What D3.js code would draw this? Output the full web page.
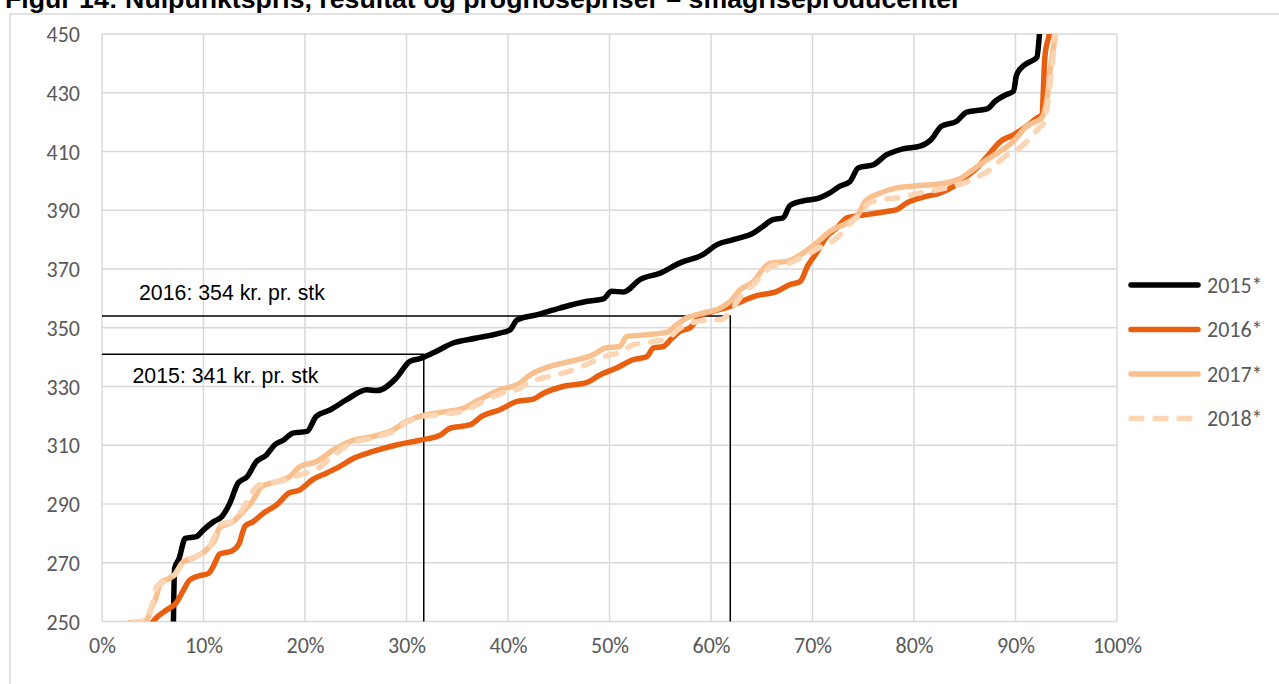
<!DOCTYPE html>
<html>
<head>
<meta charset="utf-8">
<script src="https://cdn.jsdelivr.net/npm/d3@7"></script>
<style>
  body { margin: 0; background: #fff; }
  svg { display: block; }
</style>
</head>
<body>
<svg id="chart" width="1279" height="684"></svg>
<script>
// ---- data ----
const title = "Figur 14: Nulpunktspris, resultat og prognosepriser – smågriseproducenter";

const xTicks = [0, 10, 20, 30, 40, 50, 60, 70, 80, 90, 100];
const yTicks = [250, 270, 290, 310, 330, 350, 370, 390, 410, 430, 450];

const seriesNames = ["2015*", "2016*", "2017*", "2018*"];

// share of producers (%) and break-even price (kr. pr. stk)
const share2015 = [7.0, 7.15, 7.6, 8.2, 9.3, 10.0, 11.0, 11.8, 12.6, 13.4, 14.3, 15.2, 16.2, 17.0, 17.9, 18.8, 20.2, 21.1, 22.5, 24.1, 26.1, 27.1, 29.0, 30.3, 31.3, 32.6, 34.6, 36.9, 39.2, 40.2, 40.9, 42.8, 45.1, 47.8, 49.4, 50.2, 51.4, 53.0, 55.0, 56.9, 59.2, 60.6, 62.2, 64.2, 65.0, 66.1, 67.1, 67.8, 69.4, 70.7, 71.7, 72.7, 73.7, 74.5, 76.0, 77.3, 78.9, 80.6, 81.7, 82.7, 84.2, 85.2, 87.2, 88.0, 89.1, 89.8, 90.1, 90.6, 91.4, 92.1, 92.4, 92.8];
const price2015 = [240, 268, 271.5, 278.3, 278.9, 281.2, 284, 285.7, 290.3, 297.1, 299.3, 304.4, 306.7, 310.1, 311.8, 314.1, 314.7, 319.8, 322.1, 325.5, 328.9, 328.6, 332.9, 338.5, 339.5, 341.4, 344.8, 346.5, 348.2, 349.3, 352.7, 354.4, 356.7, 359, 359.8, 362.4, 362.2, 366.4, 368.6, 372, 374.9, 378.3, 380, 382.3, 384.2, 386.8, 387.4, 391.7, 393.4, 394.2, 395.9, 398.2, 399.8, 404.4, 405.5, 408.9, 410.9, 411.8, 414.1, 418.6, 420.3, 423.4, 424.5, 427.1, 429.4, 430.5, 436, 438.6, 440.5, 442, 451.6, 470];

const share2016 = [4.5, 5.1, 6.4, 7.3, 8.0, 8.6, 9.5, 10.5, 11.0, 11.6, 12.8, 13.5, 14.1, 14.9, 15.9, 17.2, 18.4, 19.5, 20.7, 22.1, 23.4, 24.8, 26.7, 29.0, 31.3, 33.3, 34.3, 36.3, 37.4, 39.2, 40.9, 42.5, 43.5, 45.4, 47.8, 49.1, 50.7, 52.3, 53.7, 54.3, 55.3, 56.0, 56.9, 57.9, 58.9, 60.2, 61.9, 62.9, 64.5, 66.5, 67.8, 68.8, 69.5, 70.4, 71.4, 72.4, 73.4, 75.3, 77.3, 78.3, 79.3, 81.2, 82.6, 83.9, 85.2, 86.2, 87.2, 88.5, 89.8, 91.1, 92.1, 92.6, 92.9, 93.4, 93.7];
const price2016 = [247, 250.3, 254, 256.3, 260.5, 264, 265.5, 266.4, 269, 273, 274, 276.5, 282.5, 284, 286.9, 289.7, 293.7, 294.8, 298.2, 300.5, 302.7, 305.6, 307.9, 310.1, 311.7, 313.4, 315.8, 317, 319.8, 322.1, 324.9, 325.7, 327.7, 330, 331.4, 334, 336.3, 339.1, 340.2, 343.1, 343.6, 345.9, 348.7, 349.9, 353.9, 355.6, 357.3, 358.8, 360.9, 362.4, 364.7, 365.8, 370.9, 375.5, 381.1, 384, 387.4, 388.5, 389.6, 390.2, 392.5, 394.7, 395.9, 398.1, 401.5, 404.4, 408.3, 413.4, 415.7, 418.6, 421.4, 422.6, 442.4, 451.5, 462];

const share2017 = [2.7, 4.4, 4.8, 5.3, 5.8, 6.6, 7.2, 7.9, 9.1, 10.0, 10.6, 11.1, 11.6, 12.9, 13.9, 14.9, 15.7, 17.2, 18.5, 19.5, 21.1, 22.8, 24.4, 26.7, 28.7, 29.7, 31.3, 33.3, 35.6, 37.2, 39.2, 40.9, 42.2, 44.1, 46.1, 48.4, 49.6, 51.0, 51.7, 53.7, 55.6, 56.6, 57.6, 59.2, 60.9, 61.9, 62.9, 64.2, 65.2, 65.8, 67.5, 69.1, 70.4, 71.7, 73.4, 74.5, 75.2, 76.7, 78.3, 80.6, 83.2, 84.5, 85.8, 87.2, 88.5, 89.8, 91.1, 92.6, 93.1, 93.5, 94.0, 94.3];
const price2017 = [249.6, 250.4, 254, 258, 263.3, 264.6, 266, 270, 271.8, 273.5, 275.5, 277.6, 282, 284, 287.4, 291.4, 295.9, 297.6, 299.3, 302.7, 304.4, 308.4, 311.3, 313, 315.2, 317.5, 319.8, 321.2, 322.6, 325.5, 328.9, 330.6, 334, 336.8, 338.5, 340.8, 343.1, 343.6, 347, 347.6, 348.4, 351, 353.3, 355, 356.7, 359, 363, 365.8, 370.3, 372, 372.6, 375.5, 378.9, 382.8, 385.7, 388.5, 393, 395.9, 397.6, 398.4, 399.3, 400.7, 403.8, 407.3, 410.1, 413.5, 418.6, 421.5, 428, 440, 451.6, 462];

const share2018 = [2.9, 4.4, 4.9, 5.4, 6.4, 7.3, 8.1, 9.2, 10.1, 10.7, 11.2, 11.7, 13.0, 13.8, 14.6, 15.5, 17.0, 18.5, 19.5, 21.0, 22.8, 24.4, 26.7, 28.7, 29.9, 31.3, 33.3, 35.6, 37.2, 39.2, 40.9, 42.2, 44.1, 46.1, 48.4, 50.0, 51.0, 52.3, 54.3, 55.8, 56.8, 58.0, 59.9, 61.0, 62.0, 62.9, 64.2, 65.2, 66.0, 67.5, 69.5, 70.8, 72.2, 73.7, 74.8, 75.6, 77.0, 78.5, 80.6, 82.8, 84.0, 85.2, 86.3, 87.3, 88.2, 89.0, 90.7, 92.3, 92.9, 93.3, 93.8, 94.2, 94.5];
const price2018 = [249.5, 250.5, 255, 262, 264, 266.5, 270.5, 272, 273.8, 276, 280, 283, 284.3, 288, 293, 296.5, 297.5, 298.5, 300, 301.5, 306.5, 310.5, 312.5, 314.8, 317.6, 319.5, 320.5, 321.6, 324.3, 327.5, 329, 331.5, 333.5, 335.2, 338.5, 340.8, 341.5, 344.2, 345.3, 346.5, 349.5, 351.5, 352.7, 352.8, 356, 360.5, 364.8, 368.5, 371, 371.8, 375, 377.5, 380, 385.5, 389, 392.5, 393.8, 394.3, 395.9, 397.3, 398.3, 399.6, 401.5, 403.3, 406, 408.4, 412, 418, 420.5, 430, 445, 456, 465];

// zero-point price markers
const markerLabels = ["2016: 354 kr. pr. stk", "2015: 341 kr. pr. stk"];
const markerPrices = [354, 341];
const markerShares = [61.9, 31.7];

// ---- styling ----
const colors = ["#000000", "#E8600F", "#F9C08F", "#FCD5B4"];
const dashes = [null, null, null, "11 13"];
const tickFont = "Carlito, Lato, 'Liberation Sans', sans-serif";
const textGray = "#595959";
const gridGray = "#d9d9d9";

const svg = d3.select("#chart");
svg.append("rect").attr("width", 1279).attr("height", 684).attr("fill", "#fff");

// outer chart frame
svg.append("path")
  .attr("d", "M10,684V14H1279")
  .attr("fill", "none").attr("stroke", gridGray).attr("stroke-width", 1.5);

// title (runs off the top edge of the page)
const titleText = svg.append("text")
  .attr("x", 5).attr("y", 8)
  .attr("font-family", "'Liberation Sans', Arial, sans-serif")
  .attr("font-weight", "bold")
  .attr("font-size", 20)
  .attr("fill", "#000")
  .text(title);
const tw = titleText.node().getComputedTextLength();
titleText.attr("font-size", 20 * 957 / tw);

// scales
const x = d3.scaleLinear().domain([0, 100]).range([102, 1117]);
const y = d3.scaleLinear().domain([250, 450]).range([621.5, 34]);

// gridlines
const grid = svg.append("g").attr("stroke", gridGray).attr("stroke-width", 1.5);
grid.selectAll("line.v").data(xTicks).join("line").attr("class", "v")
  .attr("x1", d => x(d)).attr("x2", d => x(d))
  .attr("y1", y(450)).attr("y2", y(250));
grid.selectAll("line.h").data(yTicks).join("line").attr("class", "h")
  .attr("x1", x(0)).attr("x2", x(100))
  .attr("y1", d => y(d)).attr("y2", d => y(d));

// axes (labels only; the gridlines act as the axis lines)
const xAxis = svg.append("g").attr("transform", `translate(0,${y(250)})`)
  .call(d3.axisBottom(x).tickValues(xTicks).tickFormat(d => d + "%").tickSize(0).tickPadding(26));
const yAxis = svg.append("g").attr("transform", `translate(${x(0)},0)`)
  .call(d3.axisLeft(y).tickValues(yTicks).tickSize(0).tickPadding(22));
[xAxis, yAxis].forEach(a => {
  a.select(".domain").remove();
  a.selectAll("text").attr("font-family", tickFont).attr("font-size", 22).attr("fill", textGray);
});
xAxis.selectAll("text").attr("dy", "0.25em");
yAxis.selectAll("text").attr("dy", "0.35em");

// series lines, clipped to the plot area
svg.append("clipPath").attr("id", "plot-clip")
  .append("rect").attr("x", x(0)).attr("y", y(450))
  .attr("width", x(100) - x(0)).attr("height", y(250) - y(450));

const series = [
  d3.zip(share2015, price2015),
  d3.zip(share2016, price2016),
  d3.zip(share2017, price2017),
  d3.zip(share2018, price2018)
];
const line = d3.line().curve(d3.curveMonotoneX).x(d => x(d[0])).y(d => y(d[1]));

// zero-point reference lines
const refs = svg.append("g").attr("stroke", "#000").attr("stroke-width", 1.5).attr("fill", "none");
markerPrices.forEach((p, i) => {
  refs.append("path")
    .attr("d", `M${x(0)},${y(p)}H${x(markerShares[i])}V${y(250)}`);
});

const lines = svg.append("g").attr("clip-path", "url(#plot-clip)");
series.forEach((s, i) => {
  lines.append("path")
    .attr("d", line(s))
    .attr("fill", "none")
    .attr("stroke", colors[i])
    .attr("stroke-width", 5.5)
    .attr("stroke-linejoin", "round")
    .attr("stroke-linecap", "round")
    .attr("stroke-dasharray", dashes[i]);
});

// marker labels
const labelPos = [[139, 300], [132.5, 383]];
markerLabels.forEach((t, i) => {
  svg.append("text")
    .attr("x", labelPos[i][0]).attr("y", labelPos[i][1])
    .attr("font-family", "'Liberation Sans', Arial, sans-serif")
    .attr("font-size", 21.3)
    .attr("fill", "#000")
    .text(t);
});

// legend
const legendY = [285, 329.5, 374, 418.5];
const legend = svg.append("g");
seriesNames.forEach((name, i) => {
  legend.append("line")
    .attr("x1", 1131).attr("x2", 1198)
    .attr("y1", legendY[i]).attr("y2", legendY[i])
    .attr("stroke", colors[i]).attr("stroke-width", 5.5)
    .attr("stroke-linecap", "round")
    .attr("stroke-dasharray", dashes[i]);
  legend.append("text")
    .attr("x", 1207).attr("y", legendY[i]).attr("dy", "0.35em")
    .attr("font-family", tickFont).attr("font-size", 22)
    .attr("fill", textGray)
    .text(name);
});
</script>
</body>
</html>
